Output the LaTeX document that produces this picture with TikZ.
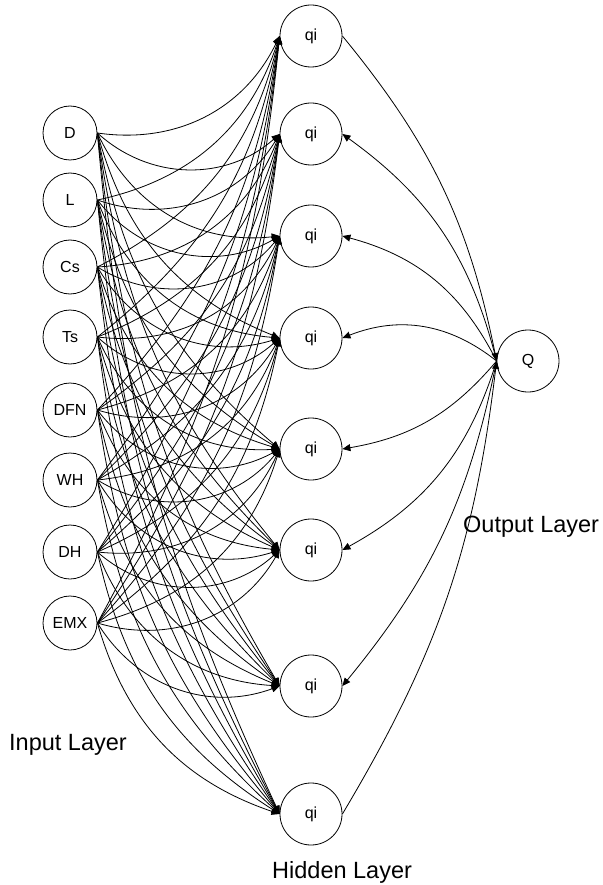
\documentclass[tikz,border=0pt]{standalone}
\usepackage{fontspec}
\setmainfont{Liberation Sans}
\usetikzlibrary{arrows.meta}

\tikzset{
  unit/.style={circle, draw, line width=0.8pt, inner sep=0pt, font=\fontsize{16}{18}\selectfont},
  wire/.style={line width=0.8pt, -{Triangle[length=8pt,width=7pt]}},
  layer/.style={anchor=base west, inner sep=0pt, font=\fontsize{23.5}{26}\selectfont}
}

\begin{document}
\begin{tikzpicture}[x=1pt,y=1pt]
        \useasboundingbox (0,0) rectangle (602,-885);

        % Input layer
        \foreach \n/\y in {D/133,L/200,Cs/267,Ts/337,DFN/410,WH/480,DH/552,EMX/623}
            \node[unit, minimum size=54pt] (\n) at (70,-\y) {\n};

        % Hidden layer
        \foreach \k/\y in {1/36,2/134,3/236,4/338,5/449,6/550,7/686,8/814}
            \node[unit, minimum size=62pt] (q\k) at (311,-\y) {qi};

        % Output layer
        \node[unit, minimum size=62pt] (Q) at (528,-361) {Q};

        % Layer names
        \node[layer] (inlab) at (9,-750) {Input Layer};
        \node[layer] (hidlab) at (272,-878) {Hidden Layer};
        \node[layer] (outlab) at (463,-532) {Output Layer};

        % Input -> hidden (every pair)
        \foreach \n/\ya in {D/133,L/200,Cs/267,Ts/337,DFN/410,WH/480,DH/552,EMX/623}
            \foreach \k/\yb in {1/36,2/134,3/236,4/338,5/449,6/550,7/686,8/814} {
                \pgfmathsetmacro\bendang{asin(min(1,36/(0.294*veclen(183,\yb-\ya))))}
                \draw[wire] (\n.east) to[bend right=\bendang] (q\k.west);
            }

        % Hidden <-> output
        \draw[wire] (q1.east) to[bend left=14] (Q.west);
        \draw[wire] (Q.west) to[bend right=20] (q2.east);
        \draw[wire] (Q.west) to[bend right=24] (q3.east);
        \draw[wire] (Q.west) to[bend right=30] (q4.east);
        \draw[wire] (Q.west) to[bend left=20] (q5.east);
        \draw[wire] (Q.west) to[bend left=22] (q6.east);
        \draw[wire] (Q.west) to[bend left=14] (q7.east);
        \draw[wire] (q8.east) to[bend right=12] (Q.west);
\end{tikzpicture}
\end{document}
